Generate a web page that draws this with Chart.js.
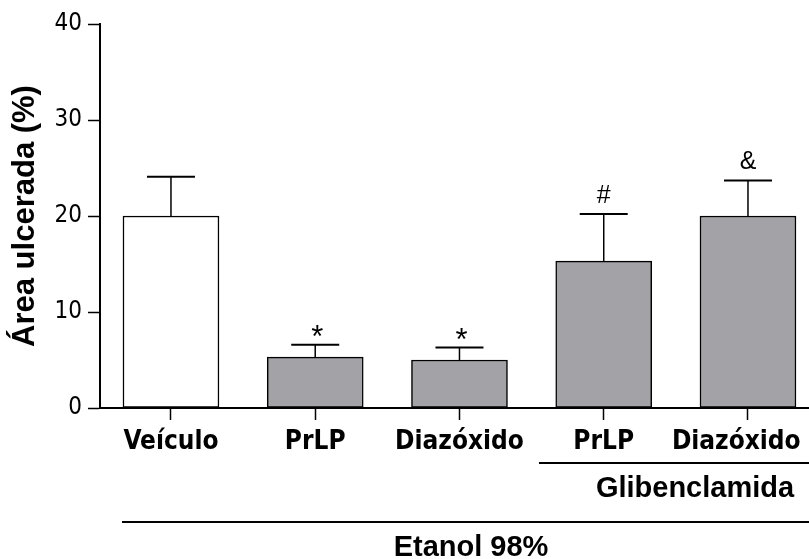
<!DOCTYPE html>
<html>
<head>
<meta charset="utf-8">
<script src="https://cdn.jsdelivr.net/npm/chart.js@4.4.0/dist/chart.umd.min.js"></script>
<style>
    body { margin: 0; background: #fff; }
    canvas { display: block; }
</style>
</head>
<body>
<canvas id="ulcerChart" width="809" height="559"></canvas>
<script>

// ---------------- DATA ----------------

const groups = ["Veículo", "PrLP", "Diazóxido", "PrLP", "Diazóxido"];
const meanArea = [20.0, 5.3, 5.0, 15.3, 20.0];
const errorTop = [24.1, 6.6, 6.3, 20.2, 23.7];
const marks = ["", "*", "*", "#", "&"];
const yTicks = [0, 10, 20, 30, 40];

const barColors = ["#ffffff", "#a3a2a7", "#a3a2a7", "#a3a2a7", "#a3a2a7"];

const narrowFont = "'Liberation Sans Narrow', 'DejaVu Sans Condensed', 'DejaVu Sans', sans-serif";

// ---------------- ERROR BARS + LABELS ----------------

const extrasPlugin = {
    id: "extras",
    afterDatasetsDraw(chart) {
        const ctx = chart.ctx;
        const xs = chart.scales.x;
        const ys = chart.scales.y;

        ctx.save();
        ctx.strokeStyle = "#000";

        groups.forEach((g, i) => {
            const x = xs.getPixelForValue(i);
            const yBar = ys.getPixelForValue(meanArea[i]);
            const yErr = ys.getPixelForValue(errorTop[i]);

            ctx.lineWidth = 1.5;
            ctx.beginPath();
            ctx.moveTo(x, yBar);
            ctx.lineTo(x, yErr);
            ctx.stroke();

            ctx.lineWidth = 2;
            ctx.beginPath();
            ctx.moveTo(x - 24, yErr);
            ctx.lineTo(x + 24, yErr);
            ctx.stroke();

            if (marks[i]) {
                ctx.fillStyle = "#000";
                ctx.textAlign = "center";
                ctx.textBaseline = "alphabetic";
                if (marks[i] === "*") {
                    ctx.font = "31px 'Liberation Sans', Arial";
                    ctx.fillText(marks[i], x + 2, yErr + 2);
                } else {
                    ctx.font = "25px 'Liberation Sans', Arial";
                    ctx.fillText(marks[i], x, yErr - 11);
                }
            }
        });

        // group brackets
        ctx.lineWidth = 2;
        ctx.beginPath();
        ctx.moveTo(539, 463);
        ctx.lineTo(809, 463);
        ctx.moveTo(122, 522);
        ctx.lineTo(809, 522);
        ctx.stroke();

        ctx.fillStyle = "#000";
        ctx.textAlign = "center";
        ctx.textBaseline = "alphabetic";
        ctx.font = "bold 29px 'Liberation Sans', Arial";
        ctx.fillText("Glibenclamida", 695, 497);
        ctx.fillText("Etanol 98%", 471, 556);

        ctx.restore();
    }
};

// ---------------- CHART ----------------

new Chart(
    document.getElementById("ulcerChart"),
    {
        type: "bar",

        data: {
            datasets: [{
                data: meanArea.map((v, i) => ({ x: i, y: v })),
                backgroundColor: barColors,
                borderColor: "#000",
                borderWidth: 1.5,
                borderSkipped: false,
                barThickness: 96
            }]
        },

        options: {
            responsive: false,
            animation: false,
            layout: {
                padding: { top: 24, right: 0, bottom: 0, left: 0 }
            },
            plugins: {
                legend: { display: false },
                tooltip: { enabled: false }
            },
            scales: {
                x: {
                    type: "linear",
                    offset: false,
                    min: -0.492,
                    max: 4.423,
                    afterFit(scale) {
                        scale.height = 151;
                        scale.paddingLeft = 0;
                        scale.paddingRight = 0;
                    },
                    afterBuildTicks(scale) {
                        scale.ticks = groups.map((g, i) => ({ value: i }));
                    },
                    border: { display: true, color: "#000", width: 2 },
                    grid: {
                        offset: false,
                        drawOnChartArea: false,
                        drawTicks: true,
                        tickLength: 12,
                        tickWidth: 1.5,
                        tickColor: "#000"
                    },
                    ticks: {
                        autoSkip: false,
                        maxRotation: 0,
                        padding: 7,
                        color: "#000",
                        font: { family: narrowFont, size: 26, weight: "bold" },
                        // last label pulled left so it fits inside the page
                        callback: (value) =>
                            value === groups.length - 1 ? groups[value] + "\u2002\u2002" : groups[value]
                    }
                },
                y: {
                    min: 0,
                    max: 40,
                    afterFit(scale) { scale.width = 100; },
                    afterBuildTicks(scale) {
                        scale.ticks = yTicks.map(v => ({ value: v }));
                    },
                    border: { display: true, color: "#000", width: 2 },
                    grid: {
                        drawOnChartArea: false,
                        drawTicks: true,
                        tickLength: 12,
                        tickWidth: 1.5,
                        tickColor: "#000"
                    },
                    ticks: {
                        padding: 6,
                        color: "#000",
                        font: { family: narrowFont, size: 24 }
                    },
                    title: {
                        display: true,
                        text: "Área ulcerada (%)",
                        color: "#000",
                        padding: { top: 7, bottom: 0 },
                        font: { family: "'Liberation Sans', Arial", size: 31, weight: "bold" }
                    }
                }
            }
        },

        plugins: [extrasPlugin]
    }
);

</script>
</body>
</html>
